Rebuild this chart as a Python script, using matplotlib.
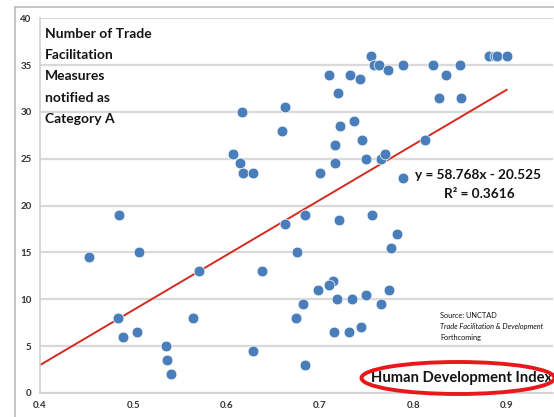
import matplotlib
matplotlib.use("Agg")
import matplotlib.pyplot as plt
import numpy as np
from matplotlib.patches import Ellipse
from matplotlib.lines import Line2D

hdi = [0.452, 0.485, 0.506, 0.570, 0.484, 0.489, 0.504, 0.564, 0.535, 0.536,
       0.540, 0.628, 0.638, 0.710, 0.719, 0.616, 0.662, 0.659, 0.721, 0.716,
       0.607, 0.614, 0.617, 0.628, 0.700, 0.716, 0.684, 0.663, 0.720, 0.675,
       0.714, 0.710, 0.698, 0.718, 0.682, 0.674, 0.715, 0.684, 0.755, 0.758,
       0.763, 0.773, 0.789, 0.732, 0.743, 0.821, 0.835, 0.827, 0.736, 0.745,
       0.813, 0.749, 0.765, 0.770, 0.789, 0.881, 0.887, 0.890, 0.900, 0.850,
       0.851, 0.756, 0.782, 0.776, 0.734, 0.749, 0.774, 0.765, 0.731, 0.744]
measures = [14.5, 19.0, 15.0, 13.0, 8.0, 6.0, 6.5, 8.0, 5.0, 3.5,
            2.0, 4.5, 13.0, 34.0, 32.0, 30.0, 30.5, 28.0, 28.5, 26.5,
            25.5, 24.5, 23.5, 23.5, 23.5, 24.5, 19.0, 18.0, 18.5, 15.0,
            12.0, 11.5, 11.0, 10.0, 9.5, 8.0, 6.5, 3.0, 36.0, 35.0,
            35.0, 34.5, 35.0, 34.0, 33.5, 35.0, 34.0, 31.5, 29.0, 27.0,
            27.0, 25.0, 25.0, 25.5, 23.0, 36.0, 36.0, 36.0, 36.0, 35.0,
            31.5, 19.0, 17.0, 15.5, 10.0, 10.5, 11.0, 9.5, 6.5, 7.0]
slope, intercept = 58.768, -20.525
trend_x = [0.4, 0.9]
x_ticks = [0.4, 0.5, 0.6, 0.7, 0.8, 0.9]
y_ticks = [0, 5, 10, 15, 20, 25, 30, 35, 40]

W, H = 554, 417
fig = plt.figure(figsize=(W/100, H/100), dpi=100)
ax = fig.add_axes([40/W, 1-393/H, (553.3-40)/W, (393-18.3)/H])
ax.set_xlim(0.4, 0.95)
ax.set_ylim(0, 40)
ax.set_xticks(x_ticks)
ax.set_yticks(y_ticks)
ax.set_xticklabels([f"{v:.1f}" for v in x_ticks])
ax.set_yticklabels([str(v) for v in y_ticks])
ax.grid(axis='y', color='#d9d9d9', linewidth=1.6)
ax.set_axisbelow(True)
for s in ['top', 'right']:
    ax.spines[s].set_visible(False)
for s in ['left', 'bottom']:
    ax.spines[s].set_color('#d0d0d0')
    ax.spines[s].set_linewidth(1.2)
ax.tick_params(length=0, pad=6, labelsize=7, colors='#333333')
for lab in ax.get_xticklabels() + ax.get_yticklabels():
    lab.set_family('Lato'); lab.set_weight('bold')

ax.scatter(hdi, measures, s=60, color='#4a7ebb', edgecolors='white', linewidths=0.5, zorder=3)
ty = [slope*v + intercept for v in trend_x]
ax.plot(trend_x, ty, color='#d42a20', linewidth=1.4, zorder=2)

ax.text(0.405, 39.0, "Number of Trade\nFacilitation\nMeasures\nnotified as\nCategory A",
        ha='left', va='top', fontsize=10, family='Lato', weight='bold',
        color='#141414', linespacing=1.93)
ax.text(0.869, 23.3, "y = 58.768x - 20.525", ha='center', va='center', fontsize=9.8,
        family='Lato', weight='bold', color='#141414')
ax.text(0.871, 21.2, "R² = 0.3616", ha='center', va='center', fontsize=9.8,
        family='Lato', weight='bold', color='#141414')
ax.text(0.829, 8.3, "Source: UNCTAD", ha='left', va='center', fontsize=5.3, family='Lato', color='#111111')
ax.text(0.829, 7.1, "Trade Facilitation & Development", ha='left', va='center', fontsize=5.3,
        family='Lato', style='italic', color='#111111', clip_on=False)
ax.text(0.829, 5.9, "Forthcoming", ha='left', va='center', fontsize=5.3, family='Lato', color='#111111')
ax.text(0.9485, 1.6, "Human Development Index", ha='right', va='center', fontsize=10.6,
        family='Lato', weight='bold', color='#141414', clip_on=False)

# red ellipse (annotation)
e = Ellipse((458/W, 1-378/H), 193/W, 32/H, transform=fig.transFigure,
            fill=False, edgecolor='#e8191a', linewidth=2.8, clip_on=False)
fig.patches.append(e)

# chart-area border
fig.add_artist(Line2D([15/W, 15/W], [1-7/H, 0], transform=fig.transFigure, color='#bdbdbd', linewidth=1.2))
fig.add_artist(Line2D([15/W, 1], [1-7/H, 1-7/H], transform=fig.transFigure, color='#bdbdbd', linewidth=1.2))

fig.savefig("out.png", dpi=100)
